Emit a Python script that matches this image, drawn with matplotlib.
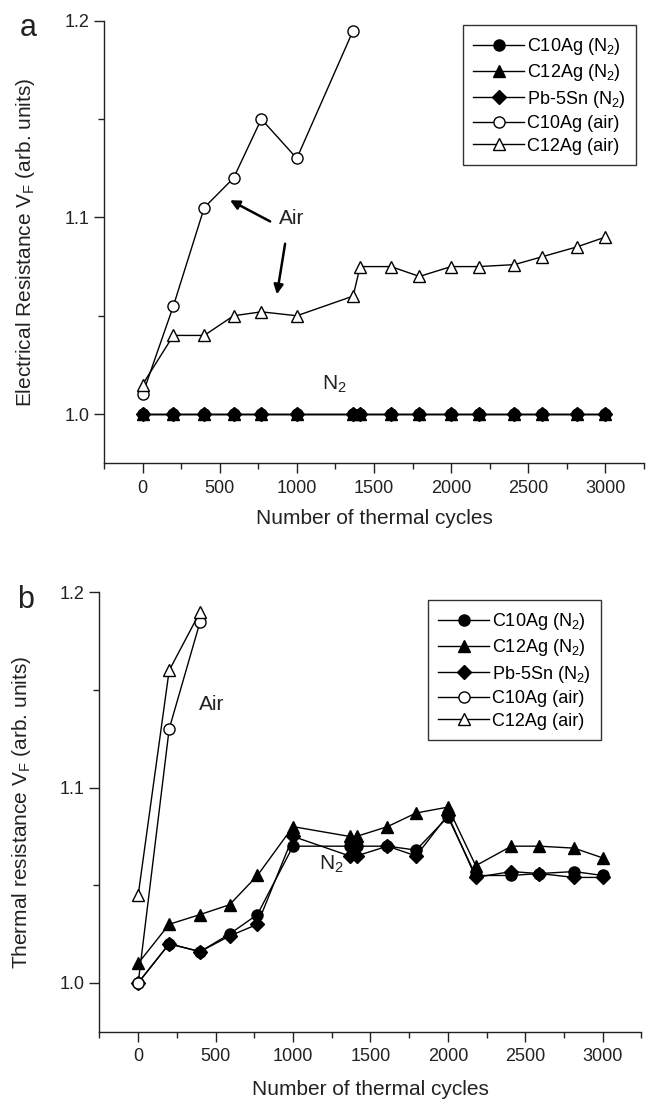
import matplotlib
matplotlib.use("Agg")
import matplotlib.pyplot as plt
from matplotlib.ticker import MultipleLocator, FormatStrFormatter

plt.rcParams["font.family"] = ["Liberation Sans", "DejaVu Sans"]
plt.rcParams["mathtext.fontset"] = "custom"
plt.rcParams["mathtext.rm"] = "Liberation Sans"
plt.rcParams["mathtext.it"] = "Liberation Sans:italic"
plt.rcParams["mathtext.bf"] = "Liberation Sans:bold"

# thermal cycle counts at which samples were measured
cycles = [0, 200, 400, 590, 770, 1000, 1365, 1410, 1610, 1795, 2000, 2180, 2410, 2590, 2815, 3000]
cycles_air_a = [0, 200, 400, 590, 770, 1000, 1365]
cycles_air_b = [0, 200, 400]

# (a) electrical resistance
elec_c10_n2 = [1.0, 1.0, 1.0, 1.0, 1.0, 1.0, 1.0, 1.0, 1.0, 1.0, 1.0, 1.0, 1.0, 1.0, 1.0, 1.0]
elec_c12_n2 = [1.0, 1.0, 1.0, 1.0, 1.0, 1.0, 1.0, 1.0, 1.0, 1.0, 1.0, 1.0, 1.0, 1.0, 1.0, 1.0]
elec_pb_n2 = [1.0, 1.0, 1.0, 1.0, 1.0, 1.0, 1.0, 1.0, 1.0, 1.0, 1.0, 1.0, 1.0, 1.0, 1.0, 1.0]
elec_c10_air = [1.01, 1.055, 1.105, 1.12, 1.15, 1.13, 1.195]
elec_c12_air = [1.015, 1.04, 1.04, 1.05, 1.052, 1.05, 1.06, 1.075, 1.075, 1.07,
                1.075, 1.075, 1.076, 1.08, 1.085, 1.09]

# (b) thermal resistance
therm_c10_n2 = [1.0, 1.02, 1.016, 1.025, 1.035, 1.07, 1.07, 1.07, 1.07, 1.068,
                1.085, 1.055, 1.055, 1.056, 1.057, 1.055]
therm_c12_n2 = [1.01, 1.03, 1.035, 1.04, 1.055, 1.08, 1.075, 1.075, 1.08, 1.087,
                1.09, 1.06, 1.07, 1.07, 1.069, 1.064]
therm_pb_n2 = [1.0, 1.02, 1.016, 1.024, 1.03, 1.075, 1.065, 1.065, 1.07, 1.065,
               1.086, 1.054, 1.057, 1.056, 1.054, 1.054]
therm_c10_air = [1.0, 1.13, 1.185]
therm_c12_air = [1.045, 1.16, 1.19]

labels = ["C10Ag (N$_{\\mathrm{2}}$)", "C12Ag (N$_{\\mathrm{2}}$)", "Pb-5Sn (N$_{\\mathrm{2}}$)",
          "C10Ag (air)", "C12Ag (air)"]
styles = [dict(marker="o", ms=8, mfc="black"),
          dict(marker="^", ms=9, mfc="black"),
          dict(marker="D", ms=7, mfc="black"),
          dict(marker="o", ms=8, mfc="white"),
          dict(marker="^", ms=9, mfc="white")]


def style_axes(ax, ylabel):
    ax.set_xlim(-250, 3250)
    ax.set_ylim(0.975, 1.2)
    ax.xaxis.set_major_locator(MultipleLocator(500))
    ax.xaxis.set_minor_locator(MultipleLocator(250))
    ax.yaxis.set_major_locator(MultipleLocator(0.1))
    ax.yaxis.set_minor_locator(MultipleLocator(0.05))
    ax.yaxis.set_major_formatter(FormatStrFormatter("%.1f"))
    for s in ["top", "right"]:
        ax.spines[s].set_visible(False)
    for s in ["left", "bottom"]:
        ax.spines[s].set_linewidth(1.0)
        ax.spines[s].set_color("#222222")
    ax.tick_params(which="major", direction="out", length=7, width=1, labelsize=13, colors="#222222")
    ax.tick_params(which="minor", direction="out", length=4, width=1, colors="#222222")
    ax.tick_params(axis="x", pad=5)
    ax.tick_params(axis="y", pad=3.5)
    ax.set_xlabel("Number of thermal cycles", fontsize=15, color="#222222")
    ax.set_ylabel(ylabel, fontsize=15, color="#222222")


def add_legend(ax, x0, y1):
    ax.legend(loc="upper left", bbox_to_anchor=(x0, y1), fontsize=13, frameon=True,
              fancybox=False, edgecolor="#333333", framealpha=1, handlelength=2.8,
              handletextpad=0.15, labelspacing=0.3, borderpad=0.6, borderaxespad=0)
    ax.get_legend().get_frame().set_linewidth(1.0)


fig = plt.figure(figsize=(6.49, 11.02), dpi=100)

# ---- panel a ----
ax1 = fig.add_axes([0.1602, 0.5796, 0.832, 0.4016])
series_a = [(cycles, elec_c10_n2), (cycles, elec_c12_n2), (cycles, elec_pb_n2),
            (cycles_air_a, elec_c10_air), (cycles, elec_c12_air)]
for (xs, ys), lab, st in zip(series_a, labels, styles):
    ax1.plot(xs, ys, color="black", lw=1.0, mec="black", mew=1.0, label=lab, **st)
style_axes(ax1, "Electrical Resistance V$_{\\mathrm{F}}$ (arb. units)")
ax1.yaxis.set_label_coords(-0.124, 0.5)
ax1.xaxis.set_label_coords(0.5, -0.104)
add_legend(ax1, 0.664, 0.99)
ax1.text(969, 1.0993, "Air", fontsize=15, ha="center", va="center", color="#222222")
ax1.annotate("", xy=(551, 1.1094), xytext=(843, 1.0973),
             arrowprops=dict(arrowstyle="-|>", color="black", lw=1.8, mutation_scale=14))
ax1.annotate("", xy=(868, 1.0595), xytext=(927, 1.088),
             arrowprops=dict(arrowstyle="-|>", color="black", lw=1.8, mutation_scale=14))
ax1.text(1161, 1.0122, "N$_{\\mathrm{2}}$", fontsize=15, ha="left", va="baseline", color="#222222")
fig.text(20 / 649, 1 - 36 / 1102, "a", fontsize=22, va="baseline", color="#222222")

# ---- panel b ----
ax2 = fig.add_axes([0.1533, 0.0638, 0.835, 0.3987])
series_b = [(cycles, therm_c10_n2), (cycles, therm_c12_n2), (cycles, therm_pb_n2),
            (cycles_air_b, therm_c10_air), (cycles_air_b, therm_c12_air)]
for (xs, ys), lab, st in zip(series_b, labels, styles):
    ax2.plot(xs, ys, color="black", lw=1.0, mec="black", mew=1.0, label=lab, **st)
style_axes(ax2, "Thermal resistance V$_{\\mathrm{F}}$ (arb. units)")
ax2.yaxis.set_label_coords(-0.123, 0.5)
ax2.xaxis.set_label_coords(0.5, -0.109)
add_legend(ax2, 0.6055, 0.9825)
ax2.text(390, 1.1398, "Air", fontsize=15, ha="left", va="baseline", color="#222222")
ax2.text(1168, 1.058, "N$_{\\mathrm{2}}$", fontsize=15, ha="left", va="baseline", color="#222222")
fig.text(17 / 649, 1 - 608 / 1102, "b", fontsize=22, va="baseline", color="#222222")

fig.savefig("out.png", dpi=100)
